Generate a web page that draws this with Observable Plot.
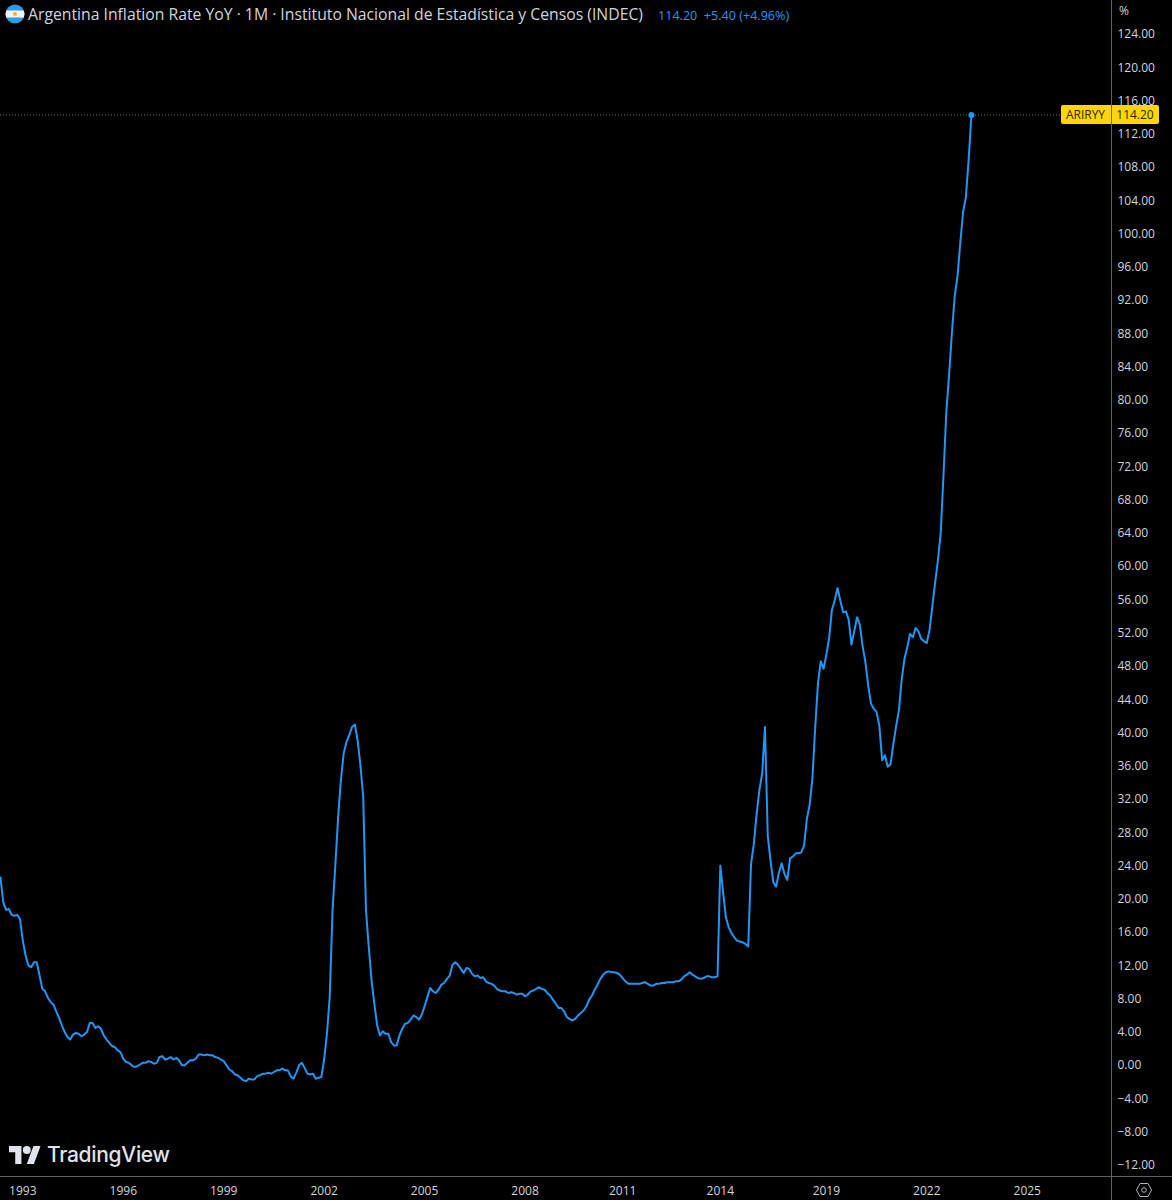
<!DOCTYPE html>
<html>
<head>
<meta charset="utf-8">
<script src="https://cdn.jsdelivr.net/npm/d3@7"></script>
<script src="https://cdn.jsdelivr.net/npm/@observablehq/plot@0.6"></script>
<style>
html,body{margin:0;padding:0;background:#000;}
#wrap{position:relative;width:1172px;height:1200px;overflow:hidden;font-family:"Open Sans",sans-serif;}
#wrap svg{display:block;}
.ov{position:absolute;white-space:nowrap;}
</style>
</head>
<body>
<div id="wrap"></div>
<script>
// Monthly year-over-year inflation (%), one value per bar, oldest first
const inflationYoY = [
22.5,19.5,18.6,18.7,18.0,17.9,18.0,17.5,14.9,13.1,
11.9,11.7,12.3,12.3,10.7,9.1,8.8,8.0,7.5,7.2,
6.4,5.6,4.7,3.9,3.3,3.0,3.6,3.8,3.7,3.4,
3.6,3.9,5.0,5.0,4.4,4.6,4.3,3.5,3.0,2.6,
2.2,2.1,1.7,1.5,0.7,0.3,0.2,-0.1,-0.3,-0.2,
0.0,0.2,0.2,0.4,0.3,0.1,0.2,0.9,1.0,0.6,
0.7,0.9,0.6,0.8,0.5,-0.1,-0.1,0.2,0.5,0.5,
0.7,1.2,1.2,1.1,1.2,1.1,1.1,0.9,0.8,0.6,
0.4,-0.1,-0.6,-0.8,-1.2,-1.3,-1.6,-1.9,-2.0,-1.7,
-1.8,-1.8,-1.4,-1.3,-1.1,-1.1,-1.0,-1.1,-0.9,-0.7,
-0.7,-0.5,-0.7,-0.7,-1.4,-1.7,-1.0,-0.1,0.2,-0.4,
-1.1,-1.2,-1.1,-1.7,-1.6,-1.5,0.6,3.7,8.1,18.5,
23.9,29.7,34.2,37.4,38.8,39.6,40.6,40.9,39.0,36.0,
32.2,18.5,14.1,10.1,7.3,4.7,3.5,4.0,3.7,3.7,
2.7,2.3,2.3,3.5,4.3,4.9,5.0,5.4,5.9,5.7,
5.4,6.0,7.0,8.1,9.2,8.8,8.6,9.0,9.6,9.8,
10.3,10.7,12.0,12.3,12.0,11.5,11.0,11.6,11.5,10.9,
10.6,10.7,10.4,10.5,10.0,9.8,9.7,9.5,9.05,8.9,
8.8,8.8,8.6,8.7,8.6,8.4,8.5,8.5,8.2,8.4,
8.8,8.9,9.1,9.3,9.1,9.0,8.6,8.3,7.8,7.3,
6.8,6.8,6.4,5.7,5.5,5.3,5.5,5.9,6.2,6.5,
7.0,7.8,8.3,9.0,9.6,10.3,10.8,11.1,11.2,11.1,
11.1,11.0,10.8,10.4,10.0,9.7,9.7,9.7,9.7,9.7,
9.8,9.9,9.7,9.5,9.5,9.7,9.7,9.8,9.8,9.9,
9.9,9.9,10.0,10.0,10.2,10.6,10.8,11.1,10.8,10.6,
10.4,10.3,10.4,10.6,10.6,10.5,10.5,10.6,
23.9,20.7,17.7,16.5,15.8,15.3,14.9,14.8,14.7,14.5,14.2,
24.1,26.5,30.1,33.0,35.0,40.6,27.5,24.5,21.9,21.4,23.1,
24.2,22.9,22.2,24.8,
25.0,25.4,25.4,25.5,26.3,29.5,31.2,34.4,40.5,45.9,48.5,47.6,
49.3,51.3,54.7,55.8,57.3,55.8,54.4,54.5,53.5,50.5,52.1,53.8,
52.9,50.3,48.4,45.6,43.4,42.8,42.4,40.7,36.6,37.2,35.8,36.1,
38.5,40.7,42.6,46.3,48.8,50.2,51.8,51.4,52.5,52.1,51.2,50.9,
50.7,52.3,55.1,58.0,60.7,64.0,71.0,78.5,83.0,88.0,92.4,94.8,
98.8,102.5,104.3,108.8,114.2
];
// Bar index on which each year label sits (the time axis counts bars, gaps in the data close up)
const yearBars   = [8,44,80,116,152,188,223,258,296,332,368];
const yearLabels = ["1993","1996","1999","2002","2005","2008","2011","2014","2019","2022","2025"];
const yTicks = d3.range(-12, 125, 4);
const lastValue = 114.20;
const seriesCode = "ARIRYY";
const titleText = "Argentina Inflation Rate YoY · 1M · Instituto Nacional de Estadística y Censos (INDEC)";
const quoteText = ["114.20", "+5.40", "(+4.96%)"];

const barsDomain = [0, 398.2];
const valueDomain = [-13.47, 127.97];
const BLUE = "#2196f3", GREY = "#5f6068", TICK = "#d1d4dc", GOLD = "#ffd600";

const rows = inflationYoY.map((v, i) => ({bar: i, v}));
const last = rows[rows.length - 1];

const chart = Plot.plot({
  width: 1172, height: 1200,
  marginLeft: 0, marginRight: 61, marginTop: 0, marginBottom: 24,
  style: {background: "#000", color: TICK, fontFamily: '"Open Sans",sans-serif', fontSize: "12px"},
  x: {domain: barsDomain},
  y: {domain: valueDomain},
  marks: [
    Plot.ruleY([lastValue], {stroke: "#8a7300", strokeWidth: 1, strokeDasharray: "1 2"}),
    Plot.ruleX([barsDomain[1]], {y1: -20, y2: valueDomain[1], stroke: GREY, strokeWidth: 1}),
    Plot.ruleY([valueDomain[0]], {x1: 0, x2: 430, stroke: GREY, strokeWidth: 1}),
    Plot.line(rows, {x: "bar", y: "v", stroke: BLUE, strokeWidth: 2, curve: "linear"}),
    Plot.dot([last], {x: "bar", y: "v", r: 3, fill: BLUE}),
    Plot.axisX({anchor: "bottom", ticks: yearBars, tickSize: 0, tickPadding: 10, label: null,
      tickFormat: d => yearLabels[yearBars.indexOf(d)]}),
    Plot.axisY({anchor: "right", ticks: yTicks, tickSize: 0, tickPadding: 7, dy: 1, dx: -1, label: null,
      tickFormat: d => (d < 0 ? "\u2212" : "") + Math.abs(d).toFixed(2)})
  ]
});
const wrap = document.getElementById("wrap");
wrap.appendChild(chart);

const py = chart.scale("y").apply(lastValue);
const axisX = chart.scale("x").apply(barsDomain[1]);

function add(html, css){
  const d = document.createElement("div");
  d.className = "ov"; d.style.cssText = css; d.innerHTML = html; wrap.appendChild(d); return d;
}
// Flag
add(`<svg width="20" height="20" viewBox="0 0 20 20"><defs><clipPath id="fc"><circle cx="10" cy="10" r="9.5"/></clipPath></defs>
<g clip-path="url(#fc)"><rect width="20" height="20" fill="#2f9be6"/><rect y="6.5" width="20" height="7" fill="#f2f2f2"/></g>
<circle cx="10" cy="10" r="2" fill="#f5b32a"/></svg>`, "left:5px;top:4px;width:20px;height:20px;");
// Title and quote
add(titleText, `left:28px;top:4px;font-size:15.75px;line-height:20px;color:#d1d4dc;`);
add(quoteText.join(" &nbsp;").replace(" &nbsp;(", " ("), `left:658px;top:5.5px;font-size:12.6px;line-height:20px;color:${BLUE};`);
// Unit
add("%", `left:1119px;top:3px;font-size:12px;line-height:16px;color:${TICK};`);
// Price tag
add(seriesCode, `left:1060.5px;top:${py-9.5}px;width:50px;height:19px;line-height:19px;background:${GOLD};color:#2a2400;font-size:12px;text-align:center;border-radius:2px 0 0 2px;`);
add(lastValue.toFixed(2), `left:${axisX+0.5}px;top:${py-9.5}px;width:47px;height:19px;line-height:19px;background:${GOLD};color:#2a2400;font-size:12px;text-align:center;border-radius:0 2px 2px 0;`);
// Brand
add(`<svg width="32" height="18" viewBox="0 0 36 20"><path d="M14 20H7V7H0V0h14v20zM28 20h-8l7.5-20h8L28 20z" fill="#e0e3eb"/><circle cx="20" cy="4.5" r="4.5" fill="#e0e3eb"/></svg>`, "left:9px;top:1146px;");
add("TradingView", `left:47px;top:1141px;font-family:Inter,sans-serif;font-weight:500;font-size:21px;line-height:28px;letter-spacing:-0.3px;color:#e0e3eb;`);
// Scale settings icon
add(`<svg width="18" height="16" viewBox="0 0 18 16"><path d="M1.5 8L5 1.5h8L16.5 8 13 14.5H5z" fill="none" stroke="#b2b5be" stroke-width="1"/><circle cx="9" cy="8" r="2.3" fill="none" stroke="#b2b5be" stroke-width="1"/></svg>`, "left:1135px;top:1182px;");
</script>
</body>
</html>
